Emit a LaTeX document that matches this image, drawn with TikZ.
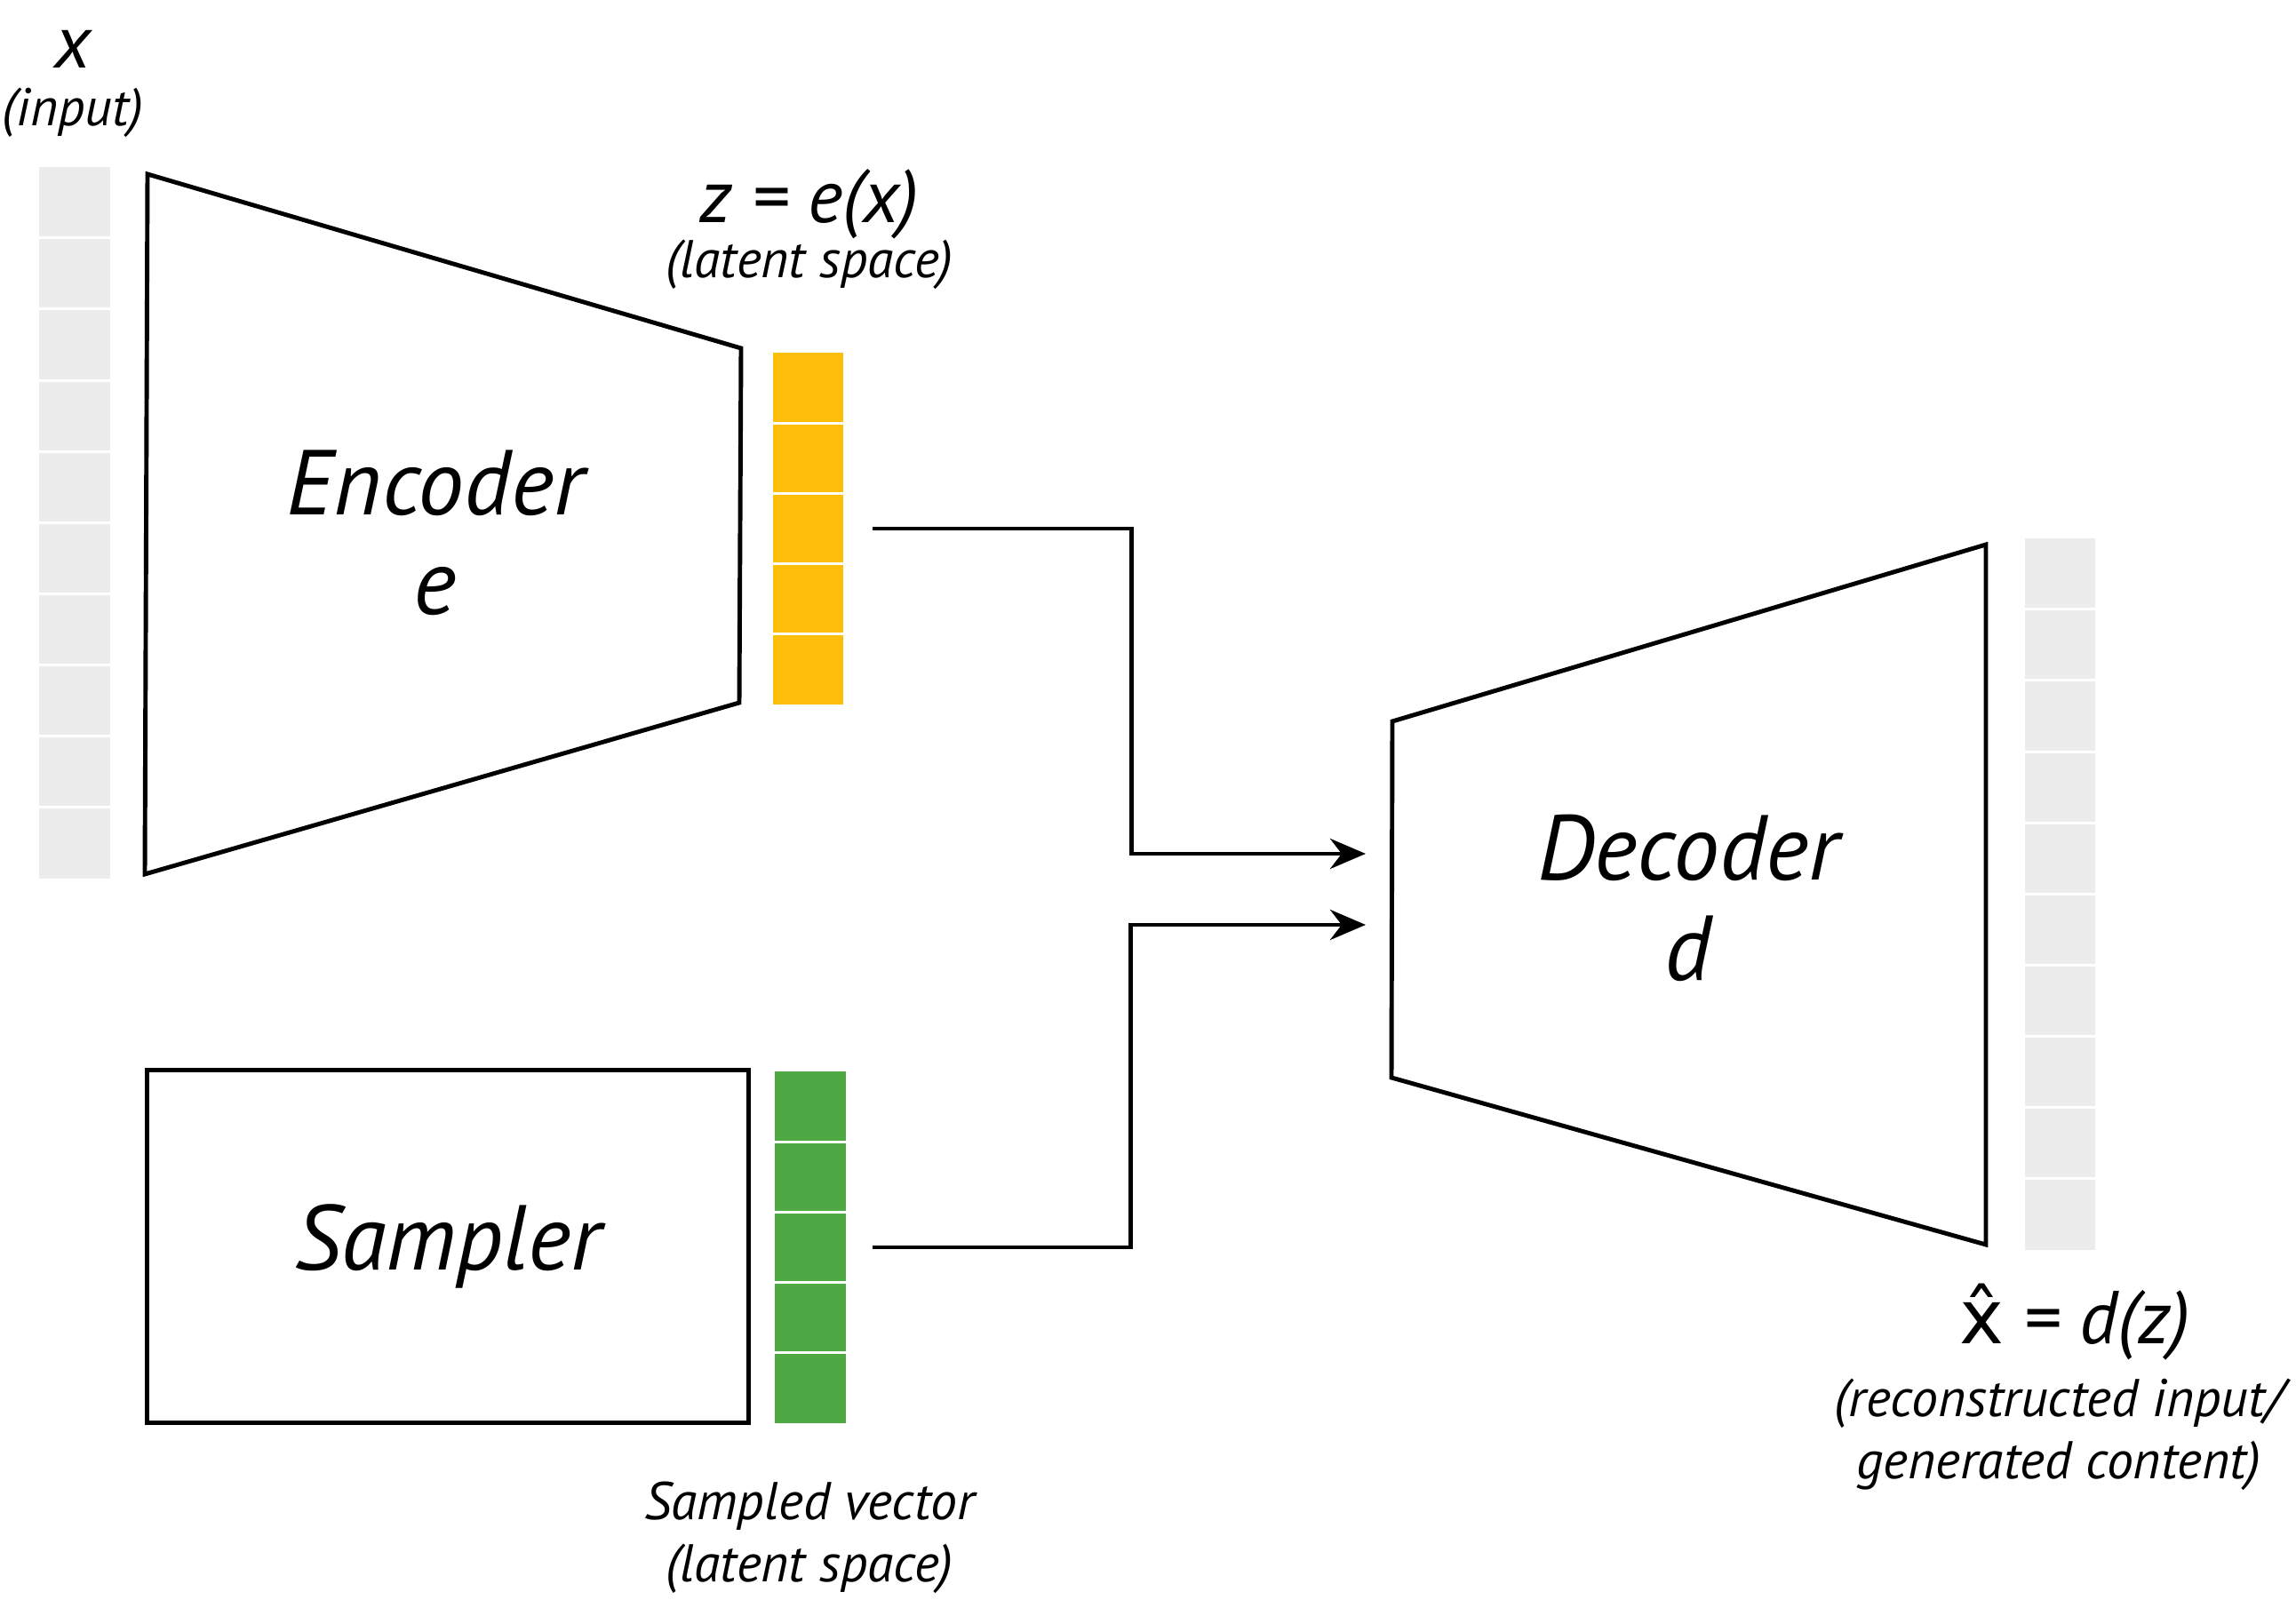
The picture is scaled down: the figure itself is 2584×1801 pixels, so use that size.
\documentclass[tikz,border=0pt]{standalone}
\usepackage{fontspec}
\setmainfont{PT Sans}
\newfontfamily\hatfont{DejaVu Sans}
\usepackage{xcolor}
\usetikzlibrary{positioning, arrows.meta}

\definecolor{cellgray}{HTML}{EDECED}
\definecolor{zyellow}{HTML}{FDBE0A}
\definecolor{sgreen}{HTML}{4EA843}

\begin{document}
\begin{tikzpicture}[x=0.01cm, y=-0.01cm, line width=1.4pt, on grid,
    vec/.style={minimum width=0.79cm, inner sep=0pt, outer sep=0pt},
    sep/.style={white, line width=0.03cm},
    arr/.style={-{Stealth[length=0.4cm, width=0.34cm]}},
    big/.style={font=\itshape\fontsize{29.5}{32}\selectfont, align=center},
    eq/.style={font=\itshape\fontsize{24}{28}\selectfont},
    note/.style={font=\itshape\fontsize{17}{20}\selectfont, align=center}]

    \useasboundingbox (0,0) rectangle (2584,1801);

    % vectors
    \node[vec, fill=cellgray, minimum height=8.01cm] (xin)  at (84,588.5) {};
    \node[vec, fill=cellgray, minimum height=8.01cm] (xout) at (2318.5,1006.5) {};
    \node[vec, fill=zyellow, minimum height=3.96cm] (zcol) at (909.5,595) {};
    \node[vec, fill=sgreen, minimum height=3.96cm] (scol) at (912,1404) {};
    \foreach \i in {1,...,9} {
        \draw[sep] (xin.north west) ++(0,80.1*\i) -- ++(80,0);
        \draw[sep] (xout.north west) ++(0,80.1*\i) -- ++(80,0);
    }
    \foreach \i in {1,...,4} {
        \draw[sep] (zcol.north west) ++(0,79.2*\i) -- ++(80,0);
        \draw[sep] (scol.north west) ++(0,79.2*\i) -- ++(80,0);
    }

    % blocks
    \draw (166,196) -- (834,392) -- (832,791) -- (163,984) -- cycle;
    \node[big] (enc) at (490,600) {Encoder\\e};
    \draw (1567,812) -- (2235,613) -- (2235,1401) -- (1566,1213) -- cycle;
    \node[big] (dec) at (1900,1011) {Decoder\\d};
    \node[draw, big, minimum width=6.76cm, minimum height=3.96cm] (samp) at (504,1403) {Sampler};

    % labels
    \node[eq] (xlab) at (82,55) {x};
    \node[note] (xsub) [below=0.72cm of xlab] {(input)};
    \node[eq] (zeq) at (911,230) {z = e(x)};
    \node[note] (zsub) [below=0.68cm of zeq] {(latent space)};
    \node[eq] (xhat) at (2335,1488) {{\upshape\hatfont x^^^^0302} = d(z)};
    \node[note] (outsub) [below=1.27cm of xhat, xshift=-0.18cm] {(reconstructed input/\\generated content)};
    \node[note] (ssub) at (911,1731) {Sampled vector\\(latent space)};

    % connections
    \coordinate (zo) at ([xshift=0.33cm]zcol.east);
    \coordinate (so) at ([xshift=0.30cm]scol.east);
    \coordinate (din1) at (1537,961);
    \coordinate (din2) at (1537,1041);
    \draw[arr] (zo) -- ++(291,0) |- (din1);
    \draw[arr] (so) -- ++(291,0) |- (din2);
\end{tikzpicture}
\end{document}
